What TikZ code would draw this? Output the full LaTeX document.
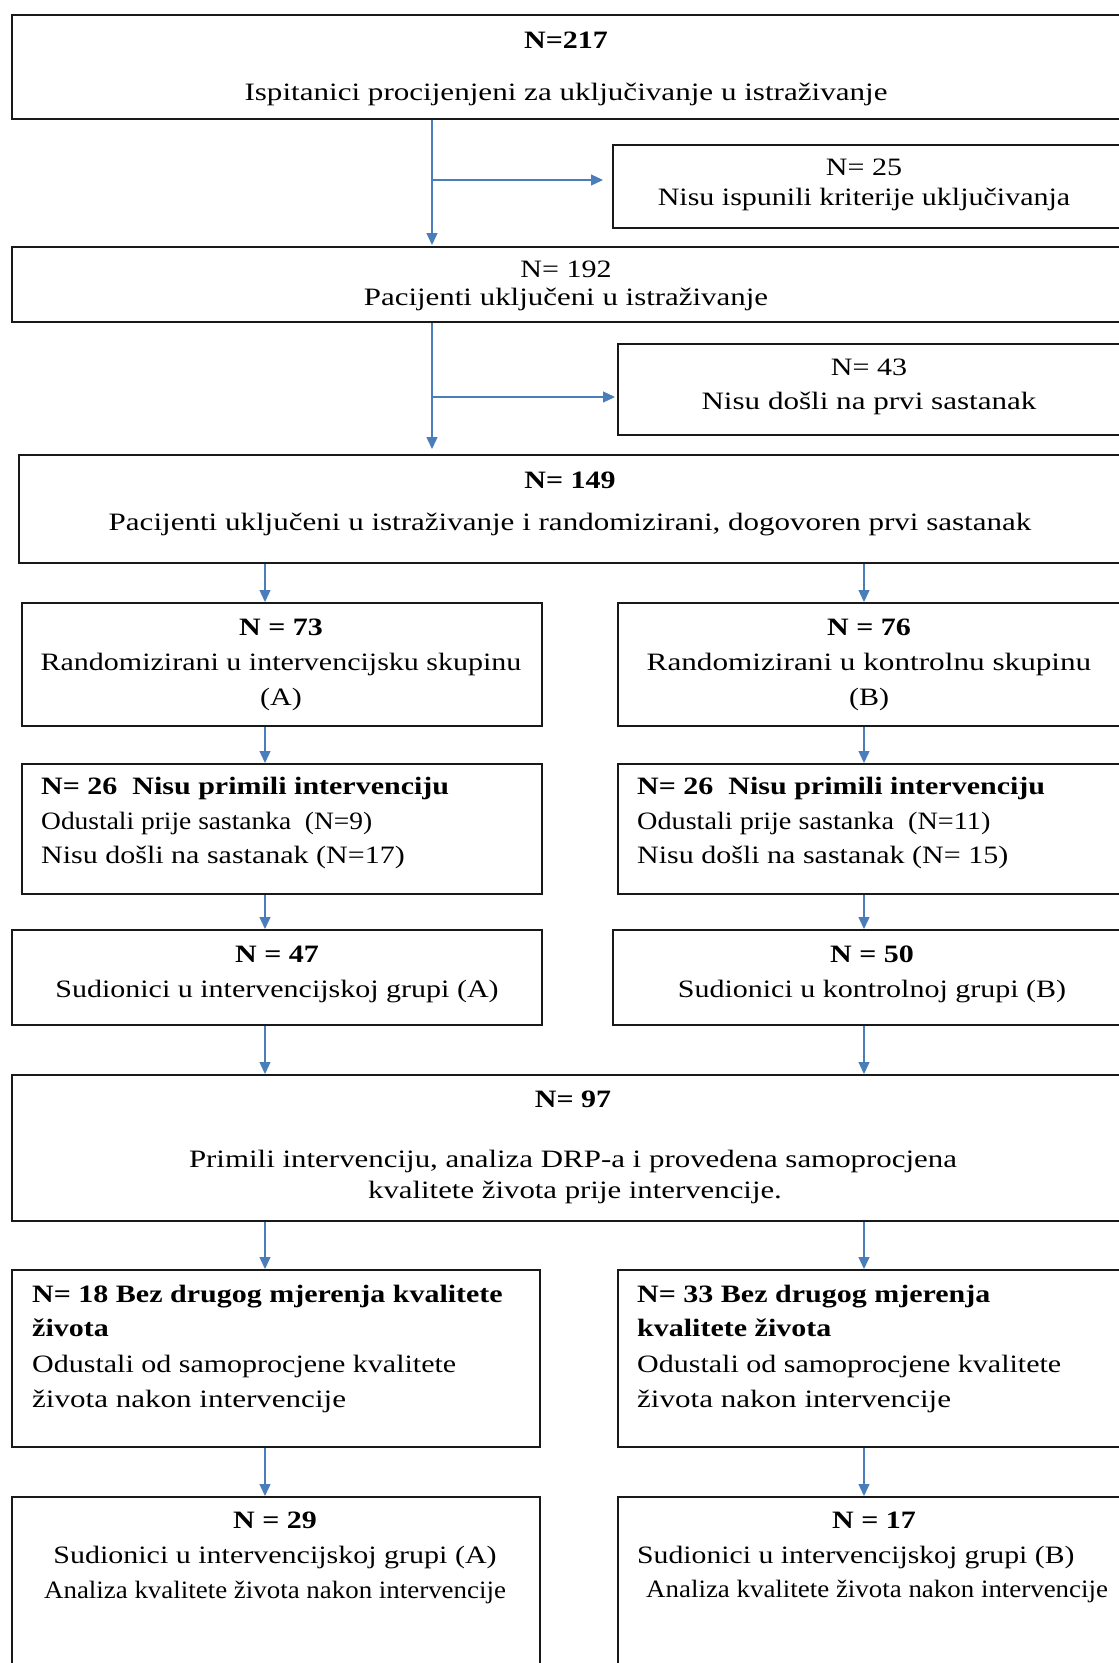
\documentclass[tikz,border=0pt]{standalone}
\usepackage{fontspec}
\usepackage{graphicx}
\setmainfont{Liberation Serif}[FakeStretch=1.2]
\usetikzlibrary{arrows.meta}
\definecolor{arrblue}{RGB}{74,126,187}
\newcommand\sqz[2]{\scalebox{#1}[1]{#2}}
\begin{document}
\begin{tikzpicture}[x=1pt,y=-1pt,
  box/.style={draw=black!90, line width=1.8pt, inner sep=0pt, rectangle, anchor=north west},
  txt/.style={inner sep=0pt, anchor=base, font=\fontsize{25}{30}\selectfont},
  txtb/.style={inner sep=0pt, anchor=base, font=\fontsize{25}{30}\selectfont\bfseries},
  ltxt/.style={txt, anchor=base west},
  ltxtb/.style={txtb, anchor=base west},
  arr/.style={draw=arrblue, line width=1.3pt, -{Triangle[length=12pt,width=11pt]}},
]
\useasboundingbox (0,0) rectangle (1119,1663);
\clip (0,0) rectangle (1119,1663);
\fill[white] (0,0) rectangle (1119,1663);

% column coordinates
\coordinate (colM) at (432,0);
\coordinate (colL) at (265,0);
\coordinate (colR) at (864,0);
\coordinate (j1) at (432,180);
\coordinate (j2) at (432,397);

% boxes
\node[box, minimum width=1111pt, minimum height=104pt] (B1) at (11,14) {};
\node[box, minimum width=510pt, minimum height=83pt] (B25) at (612,144) {};
\node[box, minimum width=1111pt, minimum height=75pt] (B192) at (11,246) {};
\node[box, minimum width=505pt, minimum height=91pt] (B43) at (617,343) {};
\node[box, minimum width=1104pt, minimum height=108pt] (B149) at (18,454) {};
\node[box, minimum width=520pt, minimum height=123pt] (B73) at (21,602) {};
\node[box, minimum width=505pt, minimum height=123pt] (B76) at (617,602) {};
\node[box, minimum width=520pt, minimum height=130pt] (B26A) at (21,763) {};
\node[box, minimum width=505pt, minimum height=130pt] (B26B) at (617,763) {};
\node[box, minimum width=530pt, minimum height=95pt] (B47) at (11,929) {};
\node[box, minimum width=510pt, minimum height=95pt] (B50) at (612,929) {};
\node[box, minimum width=1111pt, minimum height=146pt] (B97) at (11,1074) {};
\node[box, minimum width=528pt, minimum height=177pt] (B18) at (11,1269) {};
\node[box, minimum width=505pt, minimum height=177pt] (B33) at (617,1269) {};
\node[box, minimum width=528pt, minimum height=194pt] (B29) at (11,1496) {};
\node[box, minimum width=505pt, minimum height=194pt] (B17) at (617,1496) {};

% texts
\node[txtb] (t1a) at (566,48) {N=217};
\node[txt] (t1b) at (566,100) {\sqz{1.036}{Ispitanici procijenjeni za uključivanje u istraživanje}};
\node[txt] (t25a) at (864,175) {N= 25};
\node[txt] (t25b) at (864,205) {Nisu ispunili kriterije uključivanja};
\node[txt] (t192a) at (566,277) {N= 192};
\node[txt] (t192b) at (566,305) {\sqz{1.03}{Pacijenti uključeni u istraživanje}};
\node[txt] (t43a) at (869,375) {N= 43};
\node[txt] (t43b) at (869,409) {\sqz{1.036}{Nisu došli na prvi sastanak}};
\node[txtb] (t149a) at (570,488) {N= 149};
\node[txt] (t149b) at (570,530) {\sqz{1.034}{Pacijenti uključeni u istraživanje i randomizirani, dogovoren prvi sastanak}};

\node[txtb] (t73a) at (281,635) {N = 73};
\node[txt] (t73b) at (281,670) {Randomizirani u intervencijsku skupinu};
\node[txt] (t73c) at (281,705) {(A)};
\node[txtb] (t76a) at (869,635) {N = 76};
\node[txt] (t76b) at (869,670) {\sqz{1.04}{Randomizirani u kontrolnu skupinu}};
\node[txt] (t76c) at (869,705) {(B)};

\node[ltxtb] (t26a1) at (41,794) {N= 26\ \ Nisu primili intervenciju};
\node[ltxt] (t26a2) at (41,829) {\sqz{0.915}{Odustali prije sastanka\ \ (N=9)}};
\node[ltxt] (t26a3) at (41,863) {Nisu došli na sastanak (N=17)};
\node[ltxtb] (t26b1) at (637,794) {N= 26\ \ Nisu primili intervenciju};
\node[ltxt] (t26b2) at (637,829) {\sqz{0.94}{Odustali prije sastanka\ \ (N=11)}};
\node[ltxt] (t26b3) at (637,863) {Nisu došli na sastanak (N= 15)};

\node[txtb] (t47a) at (277,962) {N = 47};
\node[txt] (t47b) at (277,997) {Sudionici u intervencijskoj grupi (A)};
\node[txtb] (t50a) at (872,962) {N = 50};
\node[txt] (t50b) at (872,997) {Sudionici u kontrolnoj grupi (B)};

\node[txtb] (t97a) at (573,1107) {N= 97};
\node[txt] (t97b) at (573,1167) {\sqz{1.03}{Primili intervenciju, analiza DRP-a i provedena samoprocjena}};
\node[txt] (t97c) at (575,1198) {\sqz{1.026}{kvalitete života prije intervencije.}};

\node[ltxtb] (t18a) at (32,1302) {N= 18 Bez drugog mjerenja kvalitete};
\node[ltxtb] (t18b) at (32,1336) {života};
\node[ltxt] (t18c) at (32,1372) {Odustali od samoprocjene kvalitete};
\node[ltxt] (t18d) at (32,1407) {\sqz{1.035}{života nakon intervencije}};
\node[ltxtb] (t33a) at (637,1302) {N= 33 Bez drugog mjerenja};
\node[ltxtb] (t33b) at (637,1336) {kvalitete života};
\node[ltxt] (t33c) at (637,1372) {Odustali od samoprocjene kvalitete};
\node[ltxt] (t33d) at (637,1407) {\sqz{1.035}{života nakon intervencije}};

\node[txtb] (t29a) at (275,1528) {N = 29};
\node[txt] (t29b) at (275,1563) {Sudionici u intervencijskoj grupi (A)};
\node[txt] (t29c) at (275,1598) {\sqz{0.897}{Analiza kvalitete života nakon intervencije}};
\node[txtb] (t17a) at (874,1528) {N = 17};
\node[ltxt] (t17b) at (637,1563) {\sqz{0.99}{Sudionici u intervencijskoj grupi (B)}};
\node[ltxt] (t17c) at (646,1597) {\sqz{0.897}{Analiza kvalitete života nakon intervencije}};

% connectors
\draw[arr, shorten >=1pt] (B1.south -| colM) -- (B192.north -| colM);
\draw[arr, shorten >=9pt] (j1) -- (B25.west |- j1);
\draw[arr, shorten >=5pt] (B192.south -| colM) -- (B149.north -| colM);
\draw[arr, shorten >=2pt] (j2) -- (B43.west |- j2);

\draw[arr] (B149.south -| colL) -- (B73.north -| colL);
\draw[arr] (B149.south -| colR) -- (B76.north -| colR);
\draw[arr] (B73.south -| colL) -- (B26A.north -| colL);
\draw[arr] (B76.south -| colR) -- (B26B.north -| colR);
\draw[arr] (B26A.south -| colL) -- (B47.north -| colL);
\draw[arr] (B26B.south -| colR) -- (B50.north -| colR);
\draw[arr] (B47.south -| colL) -- (B97.north -| colL);
\draw[arr] (B50.south -| colR) -- (B97.north -| colR);
\draw[arr] (B97.south -| colL) -- (B18.north -| colL);
\draw[arr] (B97.south -| colR) -- (B33.north -| colR);
\draw[arr] (B18.south -| colL) -- (B29.north -| colL);
\draw[arr] (B33.south -| colR) -- (B17.north -| colR);
\end{tikzpicture}
\end{document}
